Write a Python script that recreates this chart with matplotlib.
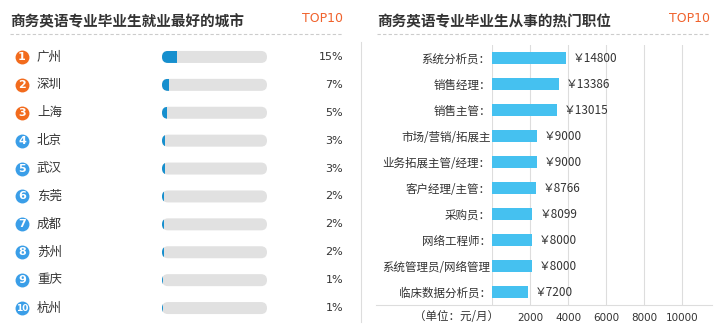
import matplotlib
matplotlib.use("Agg")
import matplotlib.pyplot as plt
import matplotlib.transforms as mtransforms
from matplotlib.patches import FancyBboxPatch
from matplotlib.lines import Line2D
import numpy as np

plt.rcParams['font.family'] = ['Noto Sans CJK SC', 'DejaVu Sans']

# 数据
cities = ['广州', '深圳', '上海', '北京', '武汉', '东莞', '成都', '苏州', '重庆', '杭州']
city_pct = [15, 7, 5, 3, 3, 2, 2, 2, 1, 1]

jobs = ['系统分析员：', '销售经理：', '销售主管：', '市场/营销/拓展主', '业务拓展主管/经理：',
        '客户经理/主管：', '采购员：', '网络工程师：', '系统管理员/网络管理', '临床数据分析员：']
salary = [14800, 13386, 13015, 9000, 9000, 8766, 8099, 8000, 8000, 7200]
tick_labels = ['2000', '4000', '6000', '8000', '10000']

W, H = 717, 328
fig = plt.figure(figsize=(W / 100, H / 100), dpi=100)
fig.patch.set_facecolor('white')


def fx(x):
    return x / W


def fy(y):
    return 1 - y / H


def axes_px(x0, y0, x1, y1):
    return fig.add_axes([fx(x0), fy(y1), (x1 - x0) / W, (y1 - y0) / H])


title_col = '#333333'
top_col = '#f0622c'
text_col = '#333333'

# 标题
fig.text(fx(10), fy(21), '商务英语专业毕业生就业最好的城市', fontsize=10.5, fontweight='bold',
         color=title_col, va='center', ha='left')
fig.text(fx(343), fy(19), 'TOP10', fontsize=9, color=top_col, va='center', ha='right',
         family='DejaVu Sans')
fig.text(fx(377), fy(21), '商务英语专业毕业生从事的热门职位', fontsize=10.5, fontweight='bold',
         color=title_col, va='center', ha='left')
fig.text(fx(710), fy(19), 'TOP10', fontsize=9, color=top_col, va='center', ha='right',
         family='DejaVu Sans')
fig.add_artist(Line2D([fx(10), fx(343)], [fy(34), fy(34)], color='#cccccc', lw=0.8, ls=(0, (3, 2))))
fig.add_artist(Line2D([fx(377), fx(710)], [fy(34), fy(34)], color='#cccccc', lw=0.8, ls=(0, (3, 2))))
fig.add_artist(Line2D([fx(361), fx(361)], [fy(42), fy(322)], color='#dddddd', lw=0.8))

# 左：城市
ax1 = axes_px(162, 43, 267, 322)
ax1.set_xlim(0, 105)
ax1.set_ylim(len(cities) - 0.5, -0.5)
ax1.axis('off')
bh = 12 / 27.9
asp = (1 / 27.9) / (1 / 1.0)
trans1 = mtransforms.blended_transform_factory(fig.transFigure, ax1.transData)
for i, (c, p) in enumerate(zip(cities, city_pct)):
    track = FancyBboxPatch((0, i - bh / 2), 105, bh, boxstyle='round,pad=0,rounding_size=6',
                           mutation_aspect=asp, fc='#e1e1e1', ec='none')
    ax1.add_patch(track)
    bar = ax1.barh(i, p, height=bh, left=0, color='#168fce')
    bar[0].set_clip_path(track)
    circ = '#f26b1d' if i < 3 else '#3a9ee8'
    ax1.plot([fx(22)], [i], marker='o', ms=10, color=circ, mec='none', transform=trans1, clip_on=False)
    ax1.text(fx(22), i, str(i + 1), transform=trans1, color='white', fontsize=8 if i < 9 else 6.5,
             fontweight='bold', ha='center', va='center', family='DejaVu Sans')
    ax1.text(fx(37), i, c, transform=trans1, color=text_col, fontsize=9, ha='left', va='center')
    ax1.text(fx(343), i, f'{p}%', transform=trans1, color=text_col, fontsize=8, ha='right',
             va='center', family='DejaVu Sans')

# 右：职位
ax2 = axes_px(492, 45, 712, 305)
ax2.set_xlim(0, 44000)
ax2.set_ylim(len(jobs) - 0.5, -0.5)
y = np.arange(len(jobs))
ax2.barh(y, salary, height=12 / 26, color='#45c1f0', zorder=3)
step = 7600
ax2.set_xticks([step * (k + 1) for k in range(len(tick_labels))])
ax2.set_xticklabels(tick_labels, fontsize=7.5, color=text_col, family='DejaVu Sans')
ax2.tick_params(axis='x', length=0, pad=6)
ax2.set_yticks(y)
ax2.set_yticklabels(jobs, fontsize=8.3, color=text_col)
ax2.tick_params(axis='y', length=0, pad=1)
ax2.grid(axis='x', color='#dddddd', lw=0.8, zorder=0)
ax2.axvline(0, color='#dddddd', lw=0.8, zorder=0)
for s in ['top', 'right', 'left', 'bottom']:
    ax2.spines[s].set_visible(False)
for i, v in enumerate(salary):
    ax2.text(v + 1400, i, f'￥{v}', fontsize=8.5, color=text_col, va='center', ha='left')
fig.add_artist(Line2D([fx(376), fx(712)], [fy(305), fy(305)], color='#dddddd', lw=0.8))
fig.text(fx(456), fy(316), '（单位：元/月）', fontsize=8.3, color=text_col, ha='center', va='center')

fig.savefig('out.png', dpi=100, facecolor='white')
